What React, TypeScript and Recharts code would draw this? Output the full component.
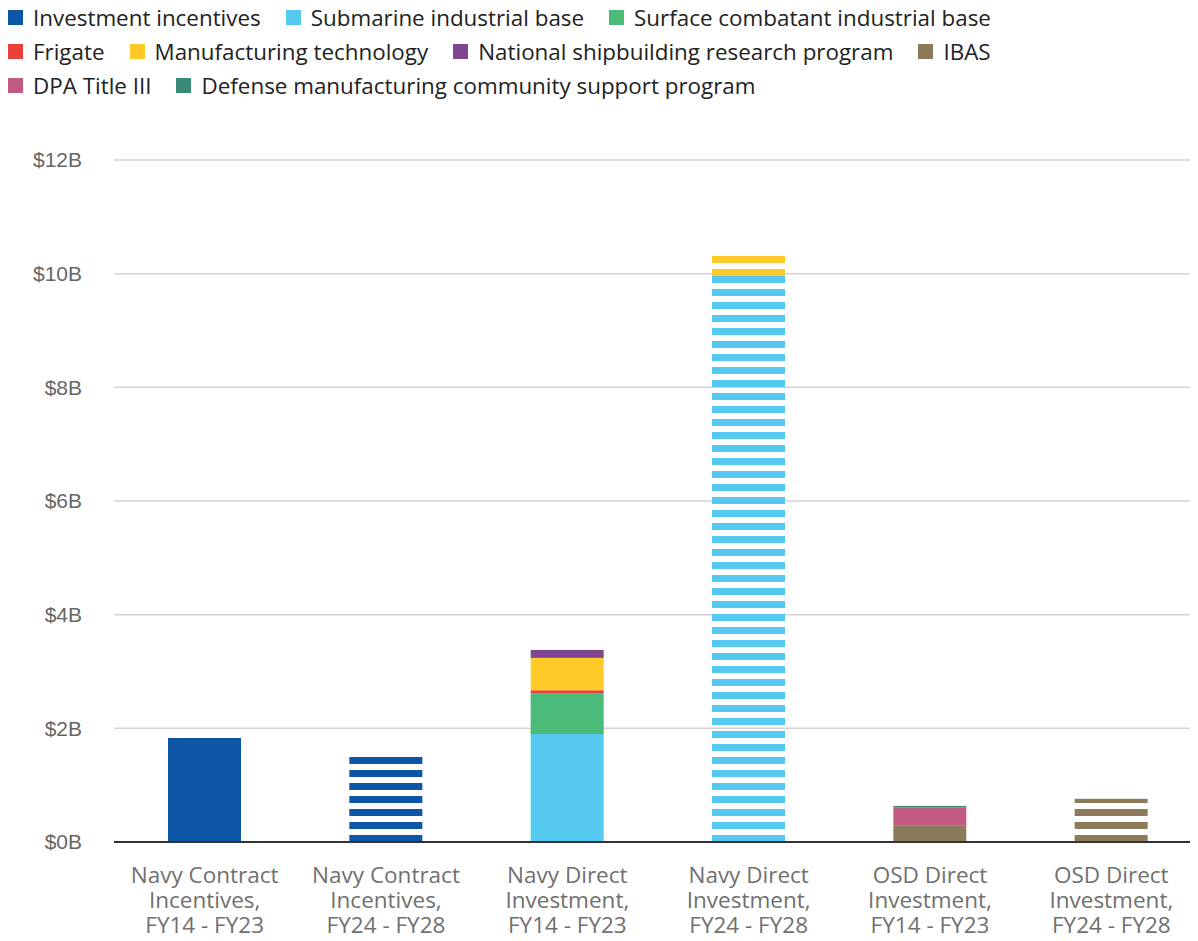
import { BarChart, Bar, XAxis, YAxis, CartesianGrid, Legend } from "recharts";

const categories = [
  "Navy Contract\nIncentives,\nFY14 - FY23",
  "Navy Contract\nIncentives,\nFY24 - FY28",
  "Navy Direct\nInvestment,\nFY14 - FY23",
  "Navy Direct\nInvestment,\nFY24 - FY28",
  "OSD Direct\nInvestment,\nFY14 - FY23",
  "OSD Direct\nInvestment,\nFY24 - FY28",
];

// FY24 - FY28 columns are projections, drawn striped
const projected = [false, true, false, true, false, true];

// values in $B
const investmentIncentives = [1.83, 1.51, 0, 0, 0, 0];
const submarineBase = [0, 0, 1.9, 9.96, 0, 0];
const surfaceCombatantBase = [0, 0, 0.72, 0, 0, 0];
const frigate = [0, 0, 0.05, 0, 0, 0];
const manufacturingTech = [0, 0, 0.57, 0.37, 0, 0];
const nsrp = [0, 0, 0.14, 0, 0, 0];
const ibas = [0, 0, 0, 0, 0.285, 0.76];
const dpaTitleIII = [0, 0, 0, 0, 0.32, 0];
const dmcsp = [0, 0, 0, 0, 0.03, 0];

const yTicks = [0, 2, 4, 6, 8, 10, 12];

const series = [
  { key: "incentives", name: "Investment incentives", values: investmentIncentives, color: "#0c56a5" },
  { key: "submarine", name: "Submarine industrial base", values: submarineBase, color: "#56c9f1" },
  { key: "surface", name: "Surface combatant industrial base", values: surfaceCombatantBase, color: "#4abb78" },
  { key: "frigate", name: "Frigate", values: frigate, color: "#e8413c" },
  { key: "mantech", name: "Manufacturing technology", values: manufacturingTech, color: "#ffc928" },
  { key: "nsrp", name: "National shipbuilding research program", values: nsrp, color: "#7f4591" },
  { key: "ibas", name: "IBAS", values: ibas, color: "#8c7b5b" },
  { key: "dpa", name: "DPA Title III", values: dpaTitleIII, color: "#c25a82" },
  { key: "dmcsp", name: "Defense manufacturing community support program", values: dmcsp, color: "#3b8a78" },
];

const legendRows = [
  [0, 1, 2],
  [3, 4, 5, 6],
  [7, 8],
];

const data = categories.map((name, i) => {
  const row: Record<string, any> = { name, striped: projected[i] };
  series.forEach((s) => {
    row[s.key] = s.values[i];
  });
  return row;
});

const FONT = "'Open Sans', Roboto, sans-serif";

const StripedBar = (props: any) => {
  const { x, y, width, height, fill, payload } = props;
  if (!height || height <= 0) return null;
  if (!payload?.striped) {
    return <rect x={x} y={y} width={width} height={height} fill={fill} />;
  }
  const stripes = [];
  const bottom = y + height;
  for (let b = bottom; b > y; b -= 13) {
    const top = Math.max(y, b - 7);
    stripes.push(<rect key={b} x={x} y={top} width={width} height={b - top} fill={fill} />);
  }
  return <g>{stripes}</g>;
};

const CategoryTick = ({ x, y, payload }: any) => {
  const lines = String(payload.value).split("\n");
  return (
    <text x={x} y={y} textAnchor="middle" fill="#707070" fontSize={22.5} fontFamily={FONT}>
      {lines.map((line, i) => (
        <tspan key={i} x={x} dy={i === 0 ? 33 : 25}>
          {line}
        </tspan>
      ))}
    </text>
  );
};

const LegendContent = () => (
  <div style={{ fontFamily: FONT, fontSize: 22.4, color: "#222" }}>
    {legendRows.map((row, r) => (
      <div key={r} style={{ display: "flex", height: 34, alignItems: "center" }}>
        {row.map((idx) => (
          <div key={idx} style={{ display: "flex", alignItems: "center", marginRight: 25 }}>
            <span style={{ width: 15, height: 15, background: series[idx].color, marginRight: 10, display: "inline-block" }} />
            <span>{series[idx].name}</span>
          </div>
        ))}
      </div>
    ))}
  </div>
);

export default function App() {
  return (
    <BarChart
      width={1194}
      height={933}
      data={data}
      margin={{ top: 50, right: 0, bottom: 0, left: 0 }}
      barSize={73}
    >
      <Legend
        verticalAlign="top"
        align="left"
        content={<LegendContent />}
        wrapperStyle={{ top: -8, left: 0 }}
      />
      <CartesianGrid vertical={false} stroke="#d3d3d3" strokeWidth={1.5} />
      <XAxis
        dataKey="name"
        tick={<CategoryTick />}
        tickLine={false}
        axisLine={{ stroke: "#333", strokeWidth: 2 }}
        interval={0}
        height={99}
      />
      <YAxis
        domain={[0, 12]}
        ticks={yTicks}
        tickFormatter={(v) => `$${v}B`}
        axisLine={false}
        tickLine={false}
        width={106}
        tickMargin={26}
        tick={{ fill: "#666", fontSize: 21, fontFamily: "'Liberation Sans', Arial, sans-serif" }}
      />
      {series.map((s) => (
        <Bar
          key={s.key}
          dataKey={s.key}
          name={s.name}
          stackId="a"
          fill={s.color}
          shape={<StripedBar />}
          isAnimationActive={false}
        />
      ))}
    </BarChart>
  );
}
